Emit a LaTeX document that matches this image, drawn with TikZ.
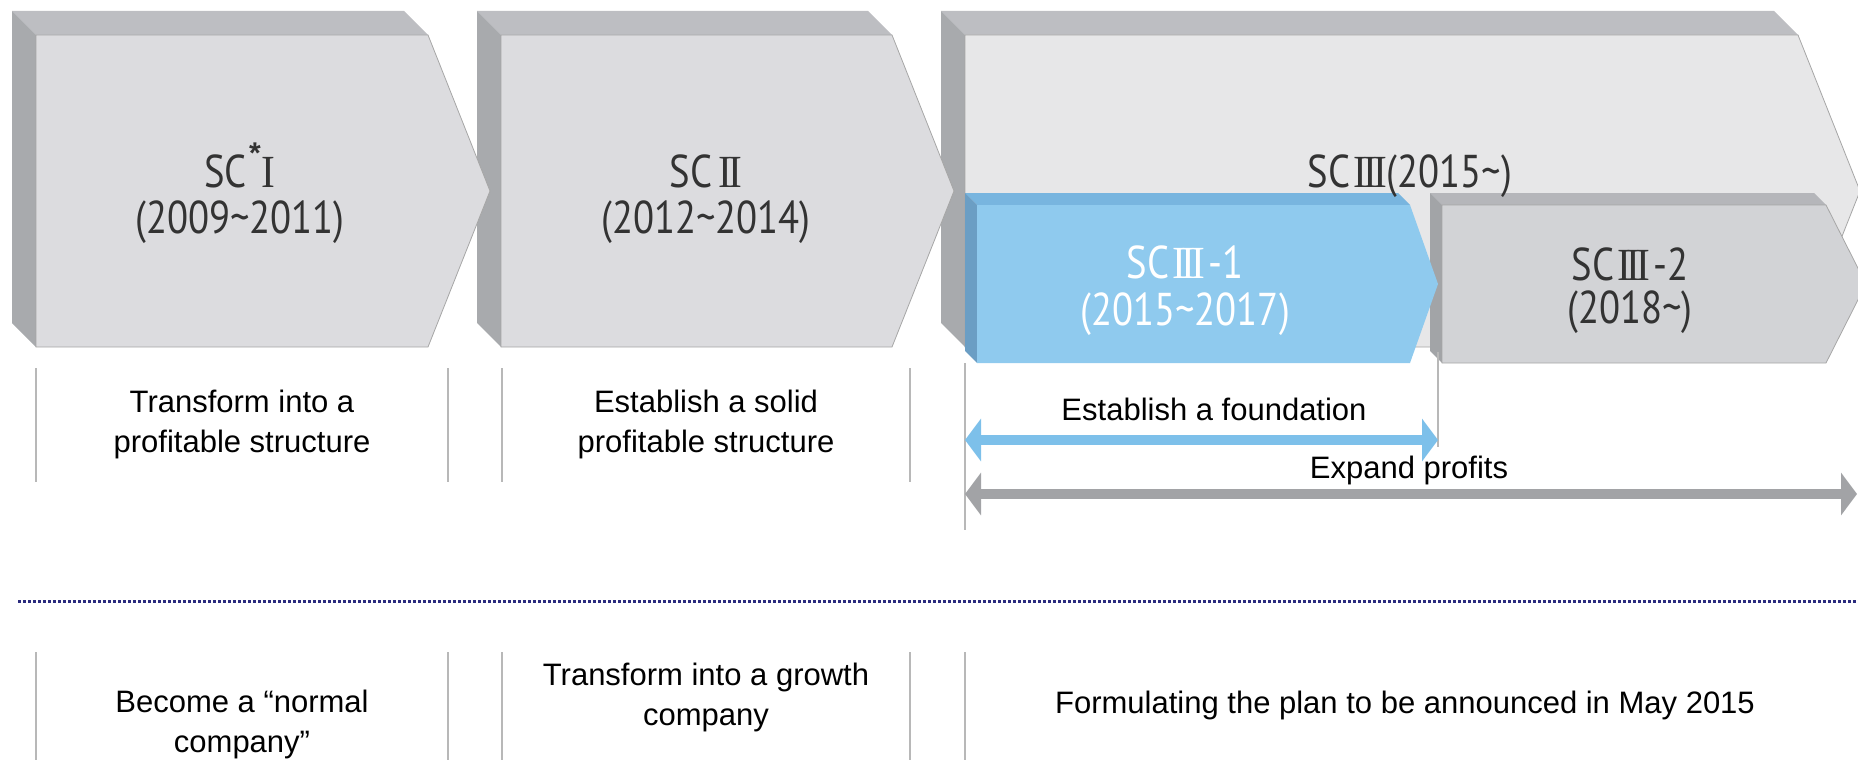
\documentclass[tikz,border=0pt]{standalone}
\usepackage{fontspec}
\setmainfont{Liberation Sans}
\newfontfamily\condfont[FakeStretch=0.84]{PT Sans}
\newfontfamily\rnfont[FakeStretch=0.9]{Liberation Serif}
\usetikzlibrary{arrows.meta}
\definecolor{topgray}{HTML}{BDBEC2}
\definecolor{sidegray}{HTML}{A8AAAD}
\definecolor{facegray}{HTML}{DCDCDF}
\definecolor{facelight}{HTML}{E7E7E8}
\definecolor{facemid}{HTML}{D2D3D6}
\definecolor{topmid}{HTML}{B5B6BA}
\definecolor{sidemid}{HTML}{A2A4A7}
\definecolor{edgegray}{HTML}{A6A6A6}
\definecolor{blueface}{HTML}{8FCAEE}
\definecolor{bluetop}{HTML}{78B5DF}
\definecolor{blueside}{HTML}{6B9EC4}
\definecolor{bluearrow}{HTML}{7DC0EA}
\definecolor{grayarrow}{HTML}{A2A3A6}
\definecolor{colline}{HTML}{B8B8B8}
\definecolor{navy}{HTML}{2B2B7E}
\definecolor{labtext}{HTML}{333333}
\newcommand\rnI{{\rnfont I}}
\newcommand\rnII{{\rnfont I\kern-4pt I}}
\newcommand\rnIII{{\rnfont I\kern-4pt I\kern-4pt I}}
\begin{document}
\begin{tikzpicture}[x=1pt,y=-1pt,
  biglab/.style={font=\condfont\fontsize{46}{50}\selectfont, text=labtext, anchor=base, inner sep=0pt},
  desc/.style={font=\fontsize{31}{40}\selectfont, align=center, inner sep=0pt, text=black},
  face/.style={draw=edgegray, line width=0.8pt},
  colrule/.style={draw=colline, line width=1.5pt},
  wide/.style={line width=10pt, {Triangle[length=16pt,width=42pt]}-{Triangle[length=16pt,width=42pt]}}
]
\useasboundingbox (0,0) rectangle (1858,760);
\clip (0,0) rectangle (1858,760);
% SC III (big)
\fill[topgray] (941,11) -- (1774,11) -- (1798,35) -- (965,35) -- cycle;
\fill[sidegray] (941,11) -- (965,35) -- (965,347) -- (941,323) -- cycle;
\filldraw[fill=facelight, face] (965,35) -- (1798,35) -- (1860,191) -- (1798,347) -- (965,347) -- cycle;
% SC II
\fill[topgray] (477,11) -- (868,11) -- (892,35) -- (501,35) -- cycle;
\fill[sidegray] (477,11) -- (501,35) -- (501,347) -- (477,323) -- cycle;
\filldraw[fill=facegray, face] (501,35) -- (892,35) -- (954,191) -- (892,347) -- (501,347) -- cycle;
% SC I
\fill[topgray] (12,11) -- (404,11) -- (428,35) -- (36,35) -- cycle;
\fill[sidegray] (12,11) -- (36,35) -- (36,347) -- (12,323) -- cycle;
\filldraw[fill=facegray, face] (36,35) -- (428,35) -- (490,191) -- (428,347) -- (36,347) -- cycle;
% SC III-2
\fill[topmid] (1430,193) -- (1814,193) -- (1826,205) -- (1442,205) -- cycle;
\fill[sidemid] (1430,193) -- (1442,205) -- (1442,363) -- (1430,351) -- cycle;
\filldraw[fill=facemid, face] (1442,205) -- (1826,205) -- (1866,284) -- (1826,363) -- (1442,363) -- cycle;
% SC III-1
\fill[bluetop] (965,193) -- (1398,193) -- (1410,205) -- (977,205) -- cycle;
\fill[blueside] (965,193) -- (977,205) -- (977,363) -- (965,351) -- cycle;
\fill[blueface] (977,205) -- (1410,205) -- (1438,284) -- (1410,363) -- (977,363) -- cycle;

% labels in the arrows
\node[biglab] (sc1) at (240,187) {SC\kern3pt\makebox[10pt]{\raisebox{24pt}{\fontspec{Liberation Sans}\fontsize{30}{30}\selectfont\bfseries *}}\kern2pt\rnI};
\node[biglab] (yr1) at (240,233) {(2009\textasciitilde 2011)};
\node[biglab] (sc2) at (706,187) {SC\kern6pt\rnII};
\node[biglab] (yr2) at (706,233) {(2012\textasciitilde 2014)};
\node[biglab] (sc3) at (1410,187) {SC\kern3pt\rnIII(2015\textasciitilde)};
\node[biglab, text=white] (sc31) at (1185,278) {SC\kern3pt\rnIII\kern3pt-1};
\node[biglab, text=white] (yr31) at (1185,325) {(2015\textasciitilde 2017)};
\node[biglab] (sc32) at (1630,280) {SC\kern3pt\rnIII\kern3pt-2};
\node[biglab] (yr32) at (1630,323) {(2018\textasciitilde)};

% column rules, upper part
\draw[colrule] (36,368) -- (36,482);
\draw[colrule] (448,368) -- (448,482);
\draw[colrule] (502,368) -- (502,482);
\draw[colrule] (910,368) -- (910,482);
\draw[colrule] (965,363) -- (965,530);
\draw[colrule] (1438,352) -- (1438,447);

\node[desc] (d1) at (242,424) {Transform into a\\profitable structure};
\node[desc] (d2) at (706,424) {Establish a solid\\profitable structure};
\node[desc, anchor=base] (d3) at (1214,420) {Establish a foundation};
\node[desc, anchor=base] (d4) at (1409,478) {Expand profits};

\coordinate (fa) at (965,440);
\coordinate (fb) at (1438,440);
\draw[wide, bluearrow] (fa) -- (fb);
\coordinate (ga) at (965,494);
\coordinate (gb) at (1857,494);
\draw[wide, grayarrow] (ga) -- (gb);

% dotted separator
\coordinate (dl) at (18,601);
\coordinate (dr) at (1858,601);
\draw[navy, line width=3pt, dash pattern=on 3pt off 2pt] (dl) -- (dr);

% column rules, lower part
\draw[colrule] (36,652) -- (36,760);
\draw[colrule] (448,652) -- (448,760);
\draw[colrule] (502,652) -- (502,760);
\draw[colrule] (910,652) -- (910,760);
\draw[colrule] (965,652) -- (965,760);

\node[desc] (b1) at (242,724) {Become a “normal\\company”};
\node[desc] (b2) at (706,697) {Transform into a growth\\company};
\node[desc, anchor=base] (b3) at (1405,713) {Formulating the plan to be announced in May 2015};
\end{tikzpicture}
\end{document}
